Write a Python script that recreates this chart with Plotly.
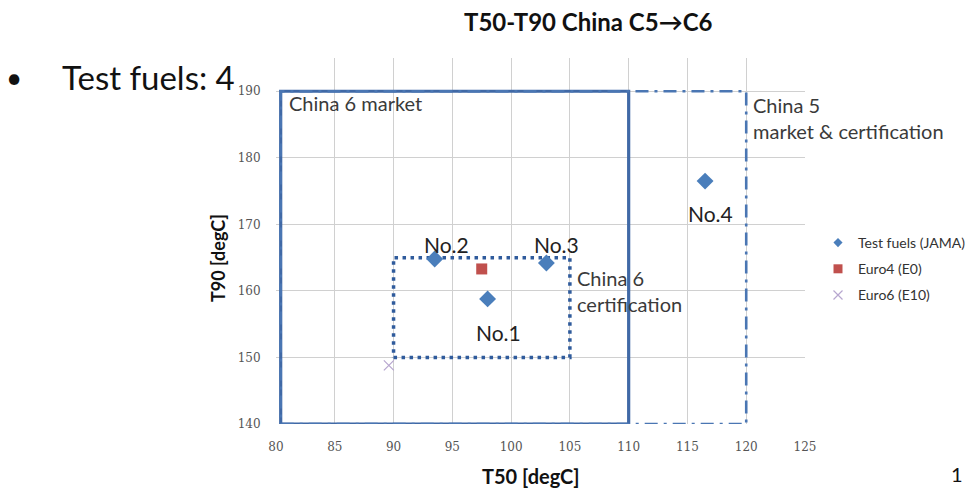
import plotly.graph_objects as go

# ---------------- data ----------------
test_names = ["No.1", "No.2", "No.3", "No.4"]
test_t50 = [98.0, 93.5, 103.0, 116.5]
test_t90 = [158.8, 164.8, 164.2, 176.5]

euro4_t50 = [97.5]
euro4_t90 = [163.3]

euro6_t50 = [89.6]
euro6_t90 = [148.8]

# region bounds [x0, x1, y0, y1]
china6_market = [80.4, 110, 140, 190]
china5_market_cert = [80.4, 120, 140, 190]
china6_cert = [90, 105, 150, 165]

x_ticks = [80, 85, 90, 95, 100, 105, 110, 115, 120, 125]
y_ticks = [140, 150, 160, 170, 180, 190]

# ---------------- layout geometry (pixels) ----------------
W, H = 968, 489
L, R, T, B = 276, 163, 58, 65
PW, PH = W - L - R, H - T - B


def px(x):
    return (x - L) / PW


def py(y):
    return (H - B - y) / PH


def rect(b):
    x0, x1, y0, y1 = b
    return [x0, x1, x1, x0, x0], [y0, y0, y1, y1, y0]


fig = go.Figure()

# regions
rx, ry = rect(china6_market)
fig.add_trace(go.Scatter(x=rx, y=ry, mode="lines", showlegend=False, hoverinfo="skip",
                         line=dict(color="#4069a6", width=3.2)))
rx, ry = rect(china5_market_cert)
fig.add_trace(go.Scatter(x=rx, y=ry, mode="lines", showlegend=False, hoverinfo="skip",
                         line=dict(color="#4a76b3", width=2.6, dash="13px,6px,3px,6px")))
rx, ry = rect(china6_cert)
fig.add_trace(go.Scatter(x=rx, y=ry, mode="lines", showlegend=False, hoverinfo="skip",
                         line=dict(color="#2f5b9c", width=3.5, dash="3.5px,4.5px")))

# data points
fig.add_trace(go.Scatter(x=test_t50, y=test_t90, mode="markers", showlegend=False,
                         marker=dict(symbol="diamond", size=13, color="#4a7ebb")))
fig.add_trace(go.Scatter(x=euro4_t50, y=euro4_t90, mode="markers", showlegend=False,
                         marker=dict(symbol="square", size=11, color="#c0504d")))
fig.add_trace(go.Scatter(x=euro6_t50, y=euro6_t90, mode="markers", showlegend=False,
                         marker=dict(symbol="x-thin-open", size=10, color="#b7a6cf",
                                     line=dict(color="#b7a6cf", width=1.2))))

# legend proxies
fig.add_trace(go.Scatter(x=[None], y=[None], mode="markers", name="Test fuels (JAMA)",
                         legendgroup="a", marker=dict(symbol="diamond", size=7, color="#4a7ebb")))
fig.add_trace(go.Scatter(x=[None], y=[None], mode="markers", name="Euro4 (E0)",
                         legendgroup="b", marker=dict(symbol="square", size=9, color="#c0504d")))
fig.add_trace(go.Scatter(x=[None], y=[None], mode="markers", name="Euro6 (E10)",
                         legendgroup="c", marker=dict(symbol="x-thin-open", size=9, color="#b7a6cf",
                                                      line=dict(color="#b7a6cf", width=1.2))))

txt = "#3a3a3a"
ann = []
# labels for test fuels
label_pos = {"No.1": (98.9, 153.7), "No.2": (94.5, 166.9), "No.3": (103.9, 166.9), "No.4": (117.0, 171.6)}
for n in test_names:
    x, y = label_pos[n]
    ann.append(dict(x=x, y=y, xref="x", yref="y", text=n, showarrow=False,
                    xanchor="center", yanchor="middle",
                    font=dict(family="Lato", size=21, color="#222222")))

region_txt = [
    ("China 6 market", 80.95, 188.2),
    ("China 5", 120.4, 186.0 + 1.9),
    ("market & certification", 120.4, 186.0 - 1.9),
    ("China 6", 105.4, 161.9),
    ("certification", 105.4, 158.0),
]
for t, x, y in region_txt:
    ann.append(dict(x=x, y=y, xref="x", yref="y", text=t, showarrow=False,
                    xanchor="left", yanchor="middle",
                    font=dict(family="Lato", size=20, color=txt)))

# paper texts
def ptext(text, x, y, size, anchor="center", angle=0, yanchor="middle"):
    ann.append(dict(x=px(x), y=py(y), xref="paper", yref="paper", text=text,
                    xanchor=anchor, yanchor=yanchor, textangle=angle, showarrow=False,
                    font=dict(family="Lato", size=size, color="#111111")))


ptext("<b>T50-T90 China C5→C6</b>", 588, 22, 24)
ptext("<b>T50 [degC]</b>", 531, 476, 20)
ptext("<b>T90 [degC]</b>", 218, 258, 18, angle=-90)
ptext("•", 14, 77, 28)
ptext("Test fuels: 4", 60, 77, 33, anchor="left")
ptext("1", 957, 488, 20, yanchor="bottom")

fig.update_layout(
    width=W, height=H,
    margin=dict(l=L, r=R, t=T, b=B, autoexpand=False),
    paper_bgcolor="white", plot_bgcolor="white",
    annotations=ann,
    showlegend=True,
    legend=dict(x=px(818), y=py(227), xanchor="left", yanchor="top",
                font=dict(family="Lato", size=14, color="#333333"),
                traceorder="grouped", tracegroupgap=5, bgcolor="rgba(0,0,0,0)"),
    xaxis=dict(range=[80, 125], tickvals=x_ticks, ticktext=[str(v) for v in x_ticks],
               showgrid=True, gridcolor="#d0d0d0", gridwidth=1, zeroline=False, showline=False,
               ticks="outside", ticklen=12, tickcolor="rgba(0,0,0,0)",
               tickfont=dict(family="DejaVu Serif", size=12, color="#555555"), fixedrange=True),
    yaxis=dict(range=[140, 195], tickvals=y_ticks, ticktext=[str(v) for v in y_ticks],
               showgrid=True, gridcolor="#d0d0d0", gridwidth=1, zeroline=False, showline=False,
               ticks="outside", ticklen=12, tickcolor="rgba(0,0,0,0)",
               tickfont=dict(family="DejaVu Serif", size=12, color="#555555"), fixedrange=True),
)

fig.write_html("out.html", config={"displayModeBar": False},
               post_script="document.body.style.margin='0';")
